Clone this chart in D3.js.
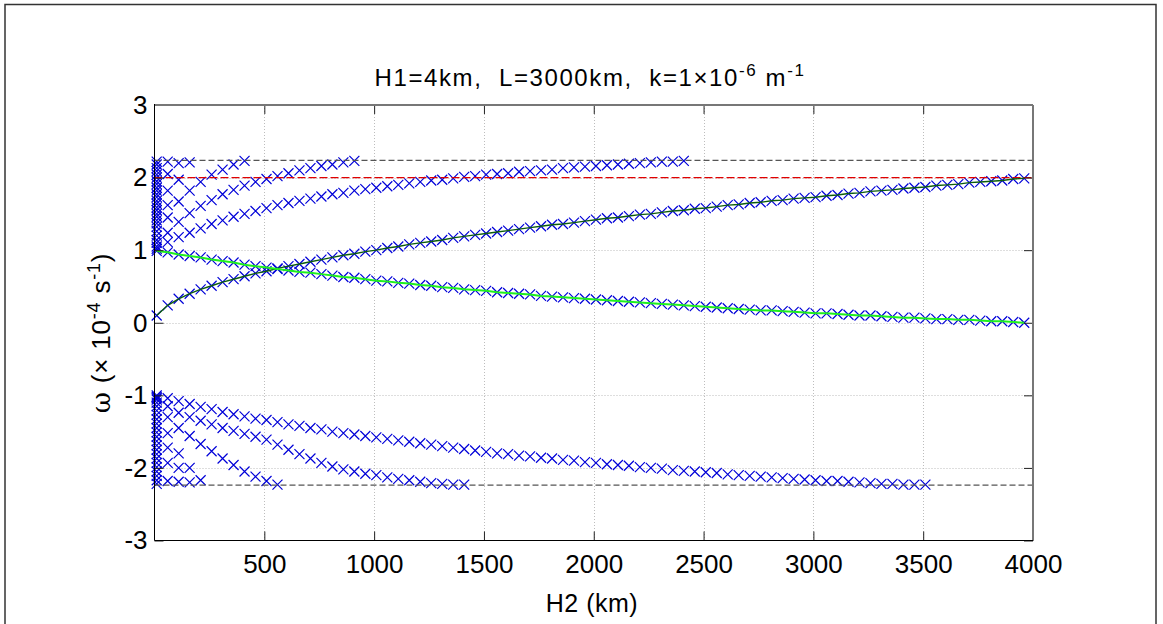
<!DOCTYPE html>
<html>
<head>
<meta charset="utf-8">
<script src="https://cdn.jsdelivr.net/npm/d3@7"></script>
<style>
  body { margin: 0; background: #fff; }
</style>
</head>
<body>
<div id="chart"></div>
<script>
// H2 sample grid (km) used for every mode
const H2_KM = [10, 60, 110, 160, 210, 260, 310, 360, 410, 460, 510, 560, 610, 660, 710, 760, 810, 860, 910, 960,
  1010, 1060, 1110, 1160, 1210, 1260, 1310, 1360, 1410, 1460, 1510, 1560, 1610, 1660, 1710, 1760, 1810, 1860, 1910, 1960,
  2010, 2060, 2110, 2160, 2210, 2260, 2310, 2360, 2410, 2460, 2510, 2560, 2610, 2660, 2710, 2760, 2810, 2860, 2910, 2960,
  3010, 3060, 3110, 3160, 3210, 3260, 3310, 3360, 3410, 3460, 3510, 3560, 3610, 3660, 3710, 3760, 3810, 3860, 3910, 3960];

// rising mode (dark green line) and falling mode (bright green line)
const KELVIN = [0.10, 0.24, 0.33, 0.40, 0.46, 0.51, 0.56, 0.60, 0.64, 0.68,
  0.71, 0.75, 0.78, 0.81, 0.84, 0.87, 0.90, 0.93, 0.95, 0.98,
  1.00, 1.03, 1.05, 1.08, 1.10, 1.12, 1.14, 1.17, 1.19, 1.21,
  1.23, 1.25, 1.27, 1.29, 1.31, 1.33, 1.35, 1.36, 1.38, 1.40,
  1.42, 1.44, 1.45, 1.47, 1.49, 1.50, 1.52, 1.54, 1.55, 1.57,
  1.58, 1.60, 1.62, 1.63, 1.65, 1.66, 1.68, 1.69, 1.71, 1.72,
  1.73, 1.75, 1.76, 1.78, 1.79, 1.81, 1.82, 1.83, 1.85, 1.86,
  1.87, 1.89, 1.90, 1.91, 1.93, 1.94, 1.95, 1.96, 1.98, 1.99];
const SHELF = [0.99, 0.97, 0.94, 0.92, 0.90, 0.87, 0.85, 0.83, 0.80, 0.78,
  0.76, 0.74, 0.72, 0.70, 0.69, 0.67, 0.65, 0.63, 0.62, 0.60,
  0.58, 0.57, 0.55, 0.54, 0.52, 0.51, 0.49, 0.48, 0.46, 0.45,
  0.44, 0.42, 0.41, 0.40, 0.39, 0.37, 0.36, 0.35, 0.34, 0.33,
  0.32, 0.31, 0.30, 0.29, 0.28, 0.27, 0.26, 0.25, 0.24, 0.23,
  0.22, 0.21, 0.20, 0.19, 0.18, 0.17, 0.17, 0.16, 0.15, 0.14,
  0.13, 0.13, 0.12, 0.11, 0.10, 0.10, 0.09, 0.08, 0.07, 0.07,
  0.06, 0.05, 0.05, 0.04, 0.04, 0.03, 0.02, 0.02, 0.01, 0.00];

// superinertial modes, positive branch (each starts at H2_KM[0])
const POS_MODE_1 = [1.02, 1.11, 1.18, 1.24, 1.30, 1.36, 1.41, 1.46, 1.50, 1.54,
  1.58, 1.62, 1.65, 1.68, 1.71, 1.74, 1.77, 1.79, 1.82, 1.84,
  1.86, 1.88, 1.90, 1.92, 1.94, 1.96, 1.97, 1.99, 2.01, 2.02,
  2.04, 2.05, 2.06, 2.08, 2.09, 2.10, 2.11, 2.13, 2.14, 2.15,
  2.16, 2.17, 2.18, 2.19, 2.20, 2.21, 2.22, 2.22, 2.23];
const POS_MODE_2 = [1.05, 1.24, 1.39, 1.51, 1.61, 1.69, 1.77, 1.83, 1.89, 1.94,
  1.98, 2.02, 2.06, 2.10, 2.13, 2.16, 2.18, 2.21, 2.23];
const POS_MODE_3 = [1.10, 1.45, 1.67, 1.82, 1.94, 2.04, 2.11, 2.18, 2.23];
const POS_HIGH = [[1.14, 1.62, 1.97, 2.21], [1.20, 1.82, 2.20], [1.26, 2.05], [1.32, 2.22],
  [1.37], [1.41], [1.46], [1.50], [1.55], [1.59], [1.64], [1.68], [1.73], [1.77],
  [1.82], [1.86], [1.91], [1.95], [2.00], [2.04], [2.09], [2.13], [2.18], [2.22]];

// negative branch
const NEG_MODE_1 = [-1.00, -1.04, -1.08, -1.12, -1.16, -1.19, -1.23, -1.26, -1.29, -1.32,
  -1.34, -1.37, -1.40, -1.42, -1.45, -1.47, -1.50, -1.52, -1.54, -1.56,
  -1.58, -1.60, -1.62, -1.64, -1.66, -1.68, -1.70, -1.72, -1.74, -1.76,
  -1.78, -1.80, -1.81, -1.83, -1.84, -1.86, -1.87, -1.89, -1.90, -1.92,
  -1.93, -1.95, -1.96, -1.97, -1.99, -2.00, -2.01, -2.03, -2.04, -2.05,
  -2.06, -2.07, -2.09, -2.10, -2.11, -2.12, -2.13, -2.14, -2.15, -2.16,
  -2.17, -2.18, -2.18, -2.19, -2.20, -2.21, -2.22, -2.22, -2.23, -2.23,
  -2.23];
const NEG_MODE_2 = [-1.02, -1.15, -1.24, -1.30, -1.35, -1.40, -1.45, -1.49, -1.53, -1.57,
  -1.61, -1.68, -1.75, -1.81, -1.87, -1.93, -1.98, -2.02, -2.05, -2.08,
  -2.10, -2.13, -2.15, -2.17, -2.19, -2.21, -2.22, -2.23, -2.23];
const NEG_MODE_3 = [-1.04, -1.30, -1.45, -1.56, -1.67, -1.77, -1.87, -1.96, -2.05, -2.12, -2.18, -2.23];
const NEG_HIGH = [[-1.06, -1.52, -1.80, -2.00, -2.17], [-1.10, -1.72, -2.00, -2.20], [-1.15, -1.93, -2.19], [-1.21, -2.18],
  [-1.27], [-1.33], [-1.39], [-1.45], [-1.51], [-1.57], [-1.63], [-1.69], [-1.75], [-1.81],
  [-1.87], [-1.93], [-1.99], [-2.05], [-2.11], [-2.17], [-2.22]];

// reference levels
const CUTOFF = [2.236, -2.236];
const DEEP_WAVE = 2.0;

const X_TICKS = [500, 1000, 1500, 2000, 2500, 3000, 3500, 4000];
const Y_TICKS = [-3, -2, -1, 0, 1, 2, 3];
const X_GRID = [500, 1000, 1500, 2000, 2500, 3000, 3500];
const Y_GRID = [-2, -1, 0, 1, 2];

const w = 1163, h = 624;
const box = {left: 154.5, right: 1033, top: 105, bottom: 540.5};
const FONT = "'Liberation Sans', Arial, Helvetica, sans-serif";

const svg = d3.select("#chart").append("svg")
    .attr("width", w)
    .attr("height", h)
    .style("font-family", FONT);

// figure frame
svg.append("rect")
    .attr("x", 5).attr("y", 4.5)
    .attr("width", 1151).attr("height", 640)
    .attr("fill", "none").attr("stroke", "#333").attr("stroke-width", 1.5);

const x = d3.scaleLinear().domain([0, 4000]).range([box.left, box.right]);
const y = d3.scaleLinear().domain([-3, 3]).range([box.bottom, box.top]);

// grid
const grid = svg.append("g").attr("stroke", "#bdbdbd").attr("stroke-width", 1).attr("stroke-dasharray", "1,2");
grid.selectAll(".gx").data(X_GRID).join("line")
    .attr("x1", d => Math.round(x(d)) + 0.5).attr("x2", d => Math.round(x(d)) + 0.5)
    .attr("y1", box.top).attr("y2", box.bottom);
grid.selectAll(".gy").data(Y_GRID).join("line")
    .attr("y1", d => Math.round(y(d)) + 0.5).attr("y2", d => Math.round(y(d)) + 0.5)
    .attr("x1", box.left).attr("x2", box.right);

// crosses
const allModes = [KELVIN, SHELF, POS_MODE_1, POS_MODE_2, POS_MODE_3, ...POS_HIGH,
                  NEG_MODE_1, NEG_MODE_2, NEG_MODE_3, ...NEG_HIGH];
const points = [];
allModes.forEach(vals => vals.forEach((v, i) => points.push([H2_KM[i], v])));

const r = 5;
svg.append("g").selectAll("path").data(points).join("path")
    .attr("transform", d => `translate(${x(d[0])},${y(d[1])})`)
    .attr("d", `M${-r},${-r}L${r},${r}M${-r},${r}L${r},${-r}`)
    .attr("fill", "none")
    .attr("stroke", "#0000d8")
    .attr("stroke-width", 1.2);

// reference lines
svg.selectAll(".cut").data(CUTOFF).join("line")
    .attr("x1", box.left).attr("x2", box.right)
    .attr("y1", d => y(d)).attr("y2", d => y(d))
    .attr("stroke", "#555").attr("stroke-width", 1.3).attr("stroke-dasharray", "6,3");
svg.append("line")
    .attr("x1", box.left).attr("x2", box.right)
    .attr("y1", y(DEEP_WAVE)).attr("y2", y(DEEP_WAVE))
    .attr("stroke", "#e00000").attr("stroke-width", 1.2).attr("stroke-dasharray", "8,3");

const line = d3.line().x((d, i) => x(H2_KM[i])).y(d => y(d));
svg.append("path").datum(KELVIN)
    .attr("d", line).attr("fill", "none")
    .attr("stroke", "#0d5c0d").attr("stroke-width", 1.4);
svg.append("path").datum(SHELF)
    .attr("d", line).attr("fill", "none")
    .attr("stroke", "#1ef01e").attr("stroke-width", 2);

// axes
const tick = 9;
const fmt = d => String(d);
const xb = svg.append("g").attr("transform", `translate(0,${box.bottom})`)
    .call(d3.axisBottom(x).tickValues(X_TICKS).tickFormat(fmt).tickSizeInner(-tick).tickSizeOuter(0).tickPadding(14));
const yl = svg.append("g").attr("transform", `translate(${box.left},0)`)
    .call(d3.axisLeft(y).tickValues(Y_TICKS).tickFormat(fmt).tickSizeInner(-tick).tickSizeOuter(0).tickPadding(7));
const xt = svg.append("g").attr("transform", `translate(0,${box.top})`)
    .call(d3.axisTop(x).tickValues(X_TICKS).tickSizeInner(-tick).tickSizeOuter(0).tickFormat(""));
const yr = svg.append("g").attr("transform", `translate(${box.right},0)`)
    .call(d3.axisRight(y).tickValues(Y_TICKS).tickSizeInner(-tick).tickSizeOuter(0).tickFormat(""));
[xb, yl, xt, yr].forEach(g => {
  g.select(".domain").remove();
  g.selectAll("line").attr("stroke", "#222");
  g.selectAll("text").attr("font-size", 26).attr("fill", "#000").style("font-family", FONT);
});

// box
svg.append("line").attr("x1", box.left).attr("x2", box.right).attr("y1", box.top).attr("y2", box.top)
    .attr("stroke", "#777").attr("stroke-width", 2);
svg.append("line").attr("x1", box.right).attr("x2", box.right).attr("y1", box.top).attr("y2", box.bottom)
    .attr("stroke", "#777").attr("stroke-width", 2);
svg.append("line").attr("x1", box.left).attr("x2", box.left).attr("y1", box.top - 1).attr("y2", box.bottom)
    .attr("stroke", "#000").attr("stroke-width", 1);
svg.append("line").attr("x1", box.left).attr("x2", box.right).attr("y1", box.bottom).attr("y2", box.bottom)
    .attr("stroke", "#000").attr("stroke-width", 1);

// title
const title = svg.append("text")
    .attr("x", 590).attr("y", 86)
    .attr("text-anchor", "middle")
    .attr("font-size", 24)
    .attr("letter-spacing", 1.6)
    .style("white-space", "pre");
title.append("tspan").text("H1=4km,  L=3000km,  k=1×10");
title.append("tspan").attr("font-size", 17).attr("dy", -10).text("-6");
title.append("tspan").attr("dy", 10).text(" m");
title.append("tspan").attr("font-size", 17).attr("dy", -10).text("-1");

// axis labels
svg.append("text")
    .attr("x", 592).attr("y", 612)
    .attr("text-anchor", "middle")
    .attr("font-size", 25)
    .attr("letter-spacing", 0.5)
    .text("H2 (km)");

const yLab = svg.append("text")
    .attr("transform", "translate(110,333) rotate(-90)")
    .attr("text-anchor", "middle")
    .attr("font-size", 26)
    .attr("letter-spacing", 0.8)
    .style("white-space", "pre");
yLab.append("tspan").style("font-family", "'DejaVu Serif', 'Liberation Serif', serif").text("ω");
yLab.append("tspan").text(" (× 10");
yLab.append("tspan").attr("font-size", 18).attr("dy", -10).text("-4");
yLab.append("tspan").attr("dy", 10).text(" s");
yLab.append("tspan").attr("font-size", 18).attr("dy", -10).text("-1");
yLab.append("tspan").attr("dy", 10).text(")");
</script>
</body>
</html>
